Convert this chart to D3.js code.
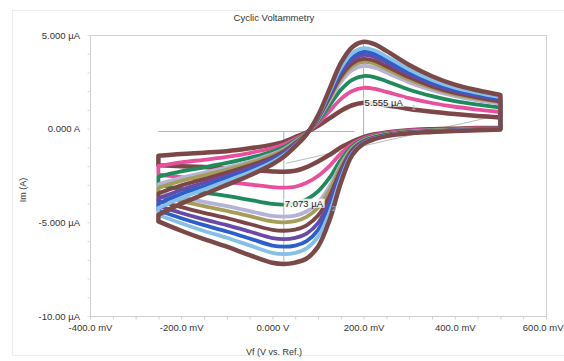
<!DOCTYPE html>
<html>
<head>
<meta charset="utf-8">
<script src="https://cdn.jsdelivr.net/npm/d3@7/dist/d3.min.js"></script>
<style>
  html, body { margin: 0; padding: 0; background: #ffffff; }
  svg { display: block; font-family: "Liberation Sans", Arial, sans-serif; }
</style>
</head>
<body>
<svg id="chart" width="564" height="361"></svg>
<script>
// Cyclic voltammetry: potential sweeps (mV) and measured current (µA) per cycle
const chartTitle = "Cyclic Voltammetry";
const xTitle = "Vf (V vs. Ref.)";
const yTitle = "Im (A)";

const xTickValues = [-400, -200, 0, 200, 400, 600];
const xTickLabels = ["-400.0 mV", "-200.0 mV", "0.000 V", "200.0 mV", "400.0 mV", "600.0 mV"];
const yTickValues = [5, 0, -5, -10];
const yTickLabels = ["5.000 µA", "0.000 A", "-5.000 µA", "-10.00 µA"];

// potential grid of the forward (anodic) and reverse (cathodic) sweeps, mV
const forwardE = [-250, -200, -150, -100, -50, 0, 25, 50, 75, 100, 125, 150, 175, 200, 225, 250, 300, 350, 400, 450, 500];
const reverseE = [500, 450, 400, 350, 300, 250, 225, 200, 175, 150, 125, 100, 75, 50, 25, 0, -50, -100, -150, -200, -250];

// current, µA, for each cycle
const fwd1 = [-1.45, -1.35, -1.28, -1.2, -1.05, -0.85, -0.7, -0.45, -0.2, 0.15, 0.55, 0.95, 1.25, 1.38, 1.35, 1.25, 1.05, 0.9, 0.78, 0.68, 0.6];
const rev1 = [0.05, 0.03, 0.0, -0.03, -0.08, -0.2, -0.3, -0.45, -0.7, -1.0, -1.4, -1.75, -2.05, -2.25, -2.3, -2.28, -2.2, -2.12, -2.05, -2.0, -1.95];
const fwd2 = [-1.99, -1.80, -1.66, -1.51, -1.30, -1.03, -0.84, -0.54, -0.22, 0.29, 0.93, 1.58, 2.01, 2.18, 2.12, 1.96, 1.63, 1.37, 1.17, 1.02, 0.89];
const rev2 = [0.03, 0.01, -0.02, -0.06, -0.11, -0.23, -0.34, -0.51, -0.82, -1.33, -2.0, -2.53, -2.89, -3.10, -3.15, -3.12, -2.98, -2.84, -2.71, -2.59, -2.46];
const fwd3 = [-2.56, -2.28, -2.06, -1.83, -1.56, -1.22, -0.98, -0.63, -0.24, 0.39, 1.23, 2.07, 2.61, 2.81, 2.74, 2.53, 2.08, 1.74, 1.47, 1.28, 1.13];
const rev3 = [0.01, -0.01, -0.04, -0.08, -0.14, -0.27, -0.39, -0.57, -0.95, -1.67, -2.63, -3.35, -3.78, -3.99, -4.05, -4.01, -3.80, -3.59, -3.41, -3.21, -3.01];
const fwd4 = [-2.97, -2.63, -2.35, -2.07, -1.75, -1.36, -1.09, -0.69, -0.26, 0.48, 1.49, 2.49, 3.12, 3.35, 3.25, 3.00, 2.47, 2.05, 1.73, 1.51, 1.33];
const rev4 = [0.0, -0.02, -0.06, -0.10, -0.16, -0.30, -0.42, -0.62, -1.04, -1.92, -3.09, -3.95, -4.42, -4.64, -4.70, -4.66, -4.40, -4.14, -3.91, -3.67, -3.40];
const fwd5 = [-3.16, -2.79, -2.49, -2.18, -1.84, -1.42, -1.13, -0.72, -0.27, 0.52, 1.59, 2.66, 3.32, 3.56, 3.46, 3.19, 2.62, 2.17, 1.83, 1.60, 1.40];
const rev5 = [0.0, -0.03, -0.07, -0.11, -0.17, -0.31, -0.44, -0.64, -1.08, -2.03, -3.30, -4.22, -4.71, -4.94, -5.00, -4.95, -4.67, -4.39, -4.14, -3.87, -3.58];
const fwd6 = [-3.45, -3.03, -2.69, -2.34, -1.97, -1.52, -1.21, -0.77, -0.27, 0.55, 1.66, 2.78, 3.48, 3.72, 3.61, 3.33, 2.74, 2.26, 1.91, 1.66, 1.46];
const rev6 = [-0.01, -0.04, -0.08, -0.13, -0.19, -0.33, -0.46, -0.67, -1.14, -2.21, -3.62, -4.64, -5.16, -5.39, -5.45, -5.40, -5.09, -4.77, -4.49, -4.19, -3.85];
const fwd7 = [-3.73, -3.27, -2.89, -2.50, -2.10, -1.61, -1.28, -0.81, -0.28, 0.58, 1.77, 2.95, 3.68, 3.94, 3.82, 3.53, 2.90, 2.39, 2.01, 1.76, 1.54];
const rev7 = [-0.02, -0.05, -0.09, -0.14, -0.20, -0.35, -0.48, -0.70, -1.21, -2.38, -3.93, -5.04, -5.60, -5.83, -5.90, -5.84, -5.49, -5.15, -4.84, -4.50, -4.12];
const fwd8 = [-3.99, -3.48, -3.07, -2.65, -2.22, -1.70, -1.34, -0.85, -0.28, 0.61, 1.85, 3.08, 3.85, 4.11, 3.99, 3.68, 3.02, 2.49, 2.09, 1.83, 1.60];
const rev8 = [-0.03, -0.06, -0.10, -0.15, -0.22, -0.36, -0.50, -0.73, -1.26, -2.53, -4.22, -5.41, -6.00, -6.24, -6.30, -6.24, -5.86, -5.49, -5.15, -4.78, -4.37];
const fwd9 = [-4.24, -3.70, -3.25, -2.79, -2.33, -1.78, -1.41, -0.89, -0.29, 0.64, 1.94, 3.24, 4.03, 4.30, 4.17, 3.85, 3.16, 2.60, 2.19, 1.91, 1.68];
const rev9 = [-0.04, -0.07, -0.11, -0.16, -0.23, -0.38, -0.52, -0.76, -1.32, -2.68, -4.50, -5.78, -6.39, -6.63, -6.70, -6.63, -6.23, -5.82, -5.46, -5.05, -4.61];
const fwd10 = [-4.6, -4.0, -3.5, -3.0, -2.5, -1.9, -1.5, -0.95, -0.3, 0.7, 2.1, 3.5, 4.35, 4.64, 4.5, 4.15, 3.4, 2.8, 2.35, 2.05, 1.8];
const rev10 = [-0.05, -0.08, -0.12, -0.18, -0.25, -0.4, -0.55, -0.8, -1.4, -2.9, -4.9, -6.3, -6.93, -7.15, -7.223, -7.16, -6.75, -6.3, -5.9, -5.45, -4.95];

const cycleColors = ["#7d4747", "#e8509c", "#1f8a5c", "#b6b2d6", "#a59d5a", "#7a4646", "#6a4aa8", "#2b60cc", "#86bfe8", "#7c4949"];

// peak annotations: baselines and peak heights
const anodicPeak = { e: 200, i: 4.64, height: 5.555, tag: "1" };
const anodicBaseline = [[30, -1.85], [480, 0.625]];
const cathodicPeak = { e: 25, i: -7.223, height: 7.073, tag: "2" };
const cathodicBaseline = [[-250, -0.15], [180, -0.15]];

const svg = d3.select("#chart");
const plotLeft = 90, plotRight = 546, plotTop = 35, plotBottom = 316;

const x = d3.scaleLinear().domain([-400, 600]).range([plotLeft, plotRight]);
const y = d3.scaleLinear().domain([-10, 5]).range([plotBottom, plotTop]);

// faint outer panel
svg.append("rect").attr("x", 12.5).attr("y", 10.5).attr("width", 560).attr("height", 345)
  .attr("fill", "none").attr("stroke", "#ececec");

// title
svg.append("text").attr("x", 274).attr("y", 21).attr("text-anchor", "middle")
  .attr("font-size", 9.5).attr("fill", "#333").text(chartTitle);

// plot frame
svg.append("rect").attr("x", plotLeft + 0.5).attr("y", plotTop + 0.5)
  .attr("width", plotRight - plotLeft).attr("height", plotBottom - plotTop)
  .attr("fill", "none").attr("stroke", "#d0d0d0");

// minor ticks
const xMinor = d3.range(-400, 601, 50);
const yMinor = d3.range(-10, 5.1, 1);
svg.append("g").attr("transform", `translate(0,${plotBottom + 0.5})`)
  .call(d3.axisBottom(x).tickValues(xMinor).tickSize(3).tickFormat(""))
  .call(g => g.select(".domain").remove())
  .call(g => g.selectAll("line").attr("stroke", "#cfcfcf"));
svg.append("g").attr("transform", `translate(${plotLeft + 0.5},0)`)
  .call(d3.axisLeft(y).tickValues(yMinor).tickSize(3).tickFormat(""))
  .call(g => g.select(".domain").remove())
  .call(g => g.selectAll("line").attr("stroke", "#dcdcdc"));

// tick labels
svg.append("g").attr("transform", `translate(0,${plotBottom})`)
  .call(d3.axisBottom(x).tickValues(xTickValues).tickSize(0).tickPadding(8)
    .tickFormat((d, i) => xTickLabels[i]))
  .call(g => g.select(".domain").remove())
  .call(g => g.selectAll("text").attr("font-size", 9.5).attr("fill", "#333")
    .attr("font-family", "'Liberation Sans', Arial, sans-serif"))
  .call(g => g.selectAll(".tick:last-of-type text").attr("text-anchor", "end").attr("x", 17));
svg.append("g").attr("transform", `translate(80,0)`)
  .call(d3.axisLeft(y).tickValues(yTickValues).tickSize(0).tickPadding(0)
    .tickFormat((d, i) => yTickLabels[i]))
  .call(g => g.select(".domain").remove())
  .call(g => g.selectAll("text").attr("font-size", 9.5).attr("fill", "#333")
    .attr("font-family", "'Liberation Sans', Arial, sans-serif"));

// axis titles
svg.append("text").attr("x", 274).attr("y", 355).attr("text-anchor", "middle")
  .attr("font-size", 9).attr("fill", "#333").text(xTitle);
svg.append("text").attr("transform", "translate(26,190) rotate(-90)")
  .attr("text-anchor", "middle").attr("font-size", 9).attr("fill", "#333").text(yTitle);

// baselines and peak markers
const seg = d3.line().x(d => x(d[0])).y(d => y(d[1]));
svg.append("path").attr("d", seg(cathodicBaseline)).attr("stroke", "#b4b4b4").attr("fill", "none");
svg.append("path").attr("d", seg(anodicBaseline)).attr("stroke", "#bcbcbc").attr("fill", "none");
const baseAt = e => anodicBaseline[0][1] + (e - anodicBaseline[0][0]) *
  (anodicBaseline[1][1] - anodicBaseline[0][1]) / (anodicBaseline[1][0] - anodicBaseline[0][0]);
svg.append("path").attr("d", seg([[anodicPeak.e, baseAt(anodicPeak.e)], [anodicPeak.e, anodicPeak.i]]))
  .attr("stroke", "#9db3cf").attr("fill", "none");
svg.append("path").attr("d", seg([[cathodicPeak.e, cathodicBaseline[0][1]], [cathodicPeak.e, cathodicPeak.i]]))
  .attr("stroke", "#9db3cf").attr("fill", "none");

// voltammograms: smooth sweeps joined by the vertical switching steps
const fwdSets = [fwd1, fwd2, fwd3, fwd4, fwd5, fwd6, fwd7, fwd8, fwd9, fwd10];
const revSets = [rev1, rev2, rev3, rev4, rev5, rev6, rev7, rev8, rev9, rev10];
const sweep = d3.line().x(d => x(d[0])).y(d => y(d[1])).curve(d3.curveCatmullRom.alpha(0.5));
const cycles = fwdSets.map((f, k) => ({
  fwd: forwardE.map((e, i) => [e, f[i]]),
  rev: reverseE.map((e, i) => [e, revSets[k][i]]),
  color: cycleColors[k]
}));
svg.append("g").selectAll("path").data(cycles).join("path")
  .attr("d", d => sweep(d.fwd) + sweep(d.rev).replace(/^M/, "L") + "Z")
  .attr("fill", "none")
  .attr("stroke", d => d.color)
  .attr("stroke-width", (d, i) => (i === 0 || i === 9) ? 4.5 : 3.8)
  .attr("stroke-linejoin", "round");

// peak labels
function peakLabel(px, py, txt, tag) {
  const g = svg.append("g");
  const t = g.append("text").attr("x", px).attr("y", py).attr("font-size", 9.5)
    .attr("fill", "#222").text(txt);
  const b = t.node().getBBox();
  g.insert("rect", "text").attr("x", b.x - 1).attr("y", b.y + 1).attr("width", b.width + 2)
    .attr("height", b.height - 2).attr("fill", "#fff").attr("opacity", 0.85);
  g.append("text").attr("x", b.x + b.width + 8).attr("y", py + 4).attr("font-size", 8)
    .attr("fill", "#a9bdd3").text(tag);
}
peakLabel(x(anodicPeak.e) + 1, y((anodicPeak.i + baseAt(anodicPeak.e)) / 2) + 12,
  anodicPeak.height.toFixed(3) + " µA", anodicPeak.tag);
peakLabel(x(cathodicPeak.e) + 1, y((cathodicPeak.i + cathodicBaseline[0][1]) / 2) + 9,
  cathodicPeak.height.toFixed(3) + " µA", cathodicPeak.tag);
</script>
</body>
</html>
